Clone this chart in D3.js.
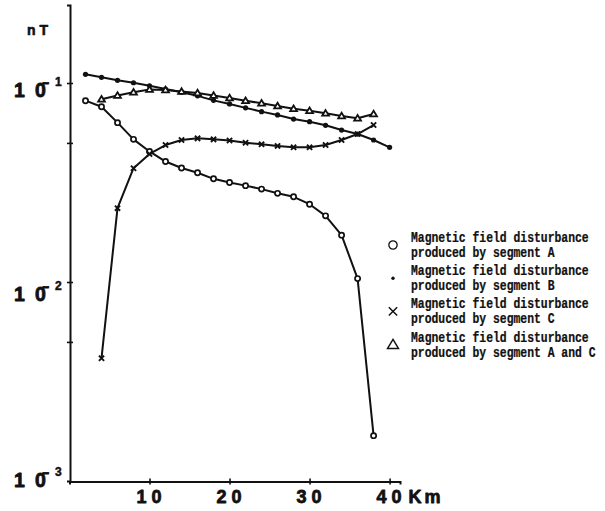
<!DOCTYPE html>
<html><head><meta charset="utf-8">
<script src="https://cdn.jsdelivr.net/npm/d3@7"></script>
<style>body{margin:0;background:#fff}svg{display:block}</style>
</head><body><svg id="c" width="605" height="511"></svg>
<script>
// ---- data (distance in km, disturbance in nT) ----
const distA = [2,4,6,8,10,12,14,16,18,20,22,24,26,28,30,32,34,36,38];
const valuesA = [0.0815,0.0760,0.0632,0.0521,0.0453,0.0403,0.0374,0.0354,0.0330,0.0316,0.0305,0.0293,0.0279,0.0268,0.0246,0.0215,0.0172,0.0104,0.00169];
const distB = [2,4,6,8,10,12,14,16,18,20,22,24,26,28,30,32,34,36,38,40];
const valuesB = [0.1106,0.1068,0.1032,0.1003,0.0969,0.0933,0.0898,0.0862,0.0818,0.0785,0.0750,0.0718,0.0691,0.0659,0.0639,0.0613,0.0580,0.0554,0.0517,0.0475];
const distC = [4,6,8,10,12,14,16,18,20,22,24,26,28,30,32,34,36,38];
const valuesC = [0.00414,0.0235,0.0373,0.0440,0.0488,0.0517,0.0527,0.0521,0.0514,0.0501,0.0492,0.0483,0.0475,0.0475,0.0488,0.0517,0.0554,0.0615];
const distAC = [4,6,8,10,12,14,16,18,20,22,24,26,28,30,32,34,36,38];
const valuesAC = [0.0828,0.0866,0.0899,0.0928,0.0922,0.0906,0.0891,0.0866,0.0841,0.0815,0.0791,0.0766,0.0743,0.0726,0.0704,0.0683,0.0665,0.0699];

const xTickValues = [10,20,30,40];
const xTickLabels = ["10","20","30","40"];
const xUnit = "Km";
const yUnit = "nT";
const yMarkValues = [0.1,0.05,0.01,0.005];
const yLabelValues = [0.1,0.01,0.001];
const yLabelExponents = ["1","2","3"];
const legendLine1 = ["Magnetic field disturbance","Magnetic field disturbance","Magnetic field disturbance","Magnetic field disturbance"];
const legendLine2 = ["produced by segment A","produced by segment B","produced by segment C","produced by segment A and C"];
const legendSymbols = ["circle","dot","cross","triangle"];

// ---- chart ----
const svg = d3.select("#c");
const x = d3.scaleLinear().domain([0,41.3]).range([69.5,400]);
const y = d3.scaleLog().domain([0.001,0.2466]).range([481,5]);
const INK = "#111";

// axes
const gy = svg.append("g").attr("transform","translate(70,0)")
  .call(d3.axisLeft(y).tickValues(yMarkValues).tickFormat("").tickSizeOuter(0).tickSize(3));
gy.select(".domain").attr("stroke",INK).attr("stroke-width",2);
gy.selectAll(".tick line").attr("x1",-3).attr("x2",3).attr("stroke",INK).attr("stroke-width",1.6);

const gx = svg.append("g").attr("transform","translate(0,481.5)")
  .call(d3.axisBottom(x).tickValues(xTickValues).tickFormat("").tickSizeOuter(0).tickSize(3));
gx.select(".domain").attr("stroke",INK).attr("stroke-width",2);
gx.selectAll(".tick line").attr("y1",-3).attr("y2",3).attr("stroke",INK).attr("stroke-width",1.6);

const boldFont = "'Liberation Sans', Arial, sans-serif";
function heavy(sel, w){ return sel.attr("font-family",boldFont).attr("font-weight","bold")
  .attr("fill",INK).attr("stroke",INK).attr("stroke-width",w||0.8).attr("stroke-linejoin","round"); }

// x tick labels
heavy(svg.append("g").selectAll("text").data(xTickValues).join("text")
  .attr("x",d=>x(d)+2).attr("y",503)
  .attr("text-anchor","middle").attr("font-size",18).attr("letter-spacing",5)
  .text((d,i)=>xTickLabels[i]));
heavy(svg.append("text").attr("x",x(40)+19).attr("y",503)
  .attr("font-size",18).attr("letter-spacing",3).text(xUnit));

// y unit
heavy(svg.append("text").attr("x",27).attr("y",35)
  .attr("font-size",14).attr("letter-spacing",4).text(yUnit), 0.6);

// y labels "1 0̄ ^n"
const labelNudge = [14,19,6];
const yl = svg.append("g").selectAll("g").data(yLabelValues).join("g")
  .attr("transform",(d,i)=>`translate(0,${y(d)+labelNudge[i]})`);
heavy(yl.append("text").attr("x",14).attr("y",0).attr("font-size",19.5).text("1"));
heavy(yl.append("text").attr("x",35).attr("y",0).attr("font-size",19.5).text("0\u0304"));
heavy(yl.append("text").attr("x",55).attr("y",-11).attr("font-size",12)
  .text((d,i)=>yLabelExponents[i]), 0.5);

// lines
const line = d3.line().x(d=>x(d[0])).y(d=>y(d[1])).curve(d3.curveLinear);
const series = [
  {name:"A", pts: distA.map((d,i)=>[d,valuesA[i]]), sym:"circle"},
  {name:"B", pts: distB.map((d,i)=>[d,valuesB[i]]), sym:"dot"},
  {name:"C", pts: distC.map((d,i)=>[d,valuesC[i]]), sym:"cross"},
  {name:"AC", pts: distAC.map((d,i)=>[d,valuesAC[i]]), sym:"triangle"}
];
svg.append("g").selectAll("path").data(series).join("path")
  .attr("d",s=>line(s.pts)).attr("fill","none").attr("stroke",INK).attr("stroke-width",2)
  .attr("stroke-linejoin","round");

function drawSymbol(g, sym, scale){
  if(sym==="circle"){
    g.append("circle").attr("r",2.6*scale).attr("fill","#fff").attr("stroke",INK).attr("stroke-width",scale>1?1.3:1.7);
  } else if(sym==="dot"){
    g.append("circle").attr("r",scale>1?1.7:2.6).attr("fill",INK);
  } else if(sym==="cross"){
    const s=2.6*scale;
    g.append("path").attr("d",`M${-s},${-s}L${s},${s}M${-s},${s}L${s},${-s}`)
      .attr("stroke",INK).attr("stroke-width",scale>1?1.5:1.9);
  } else {
    const s=3.4*scale;
    g.append("path").attr("d",`M0,${-s*0.95}L${s},${s*0.7}L${-s},${s*0.7}Z`)
      .attr("fill","#fff").attr("stroke",INK).attr("stroke-width",scale>1?1.5:1.8).attr("stroke-linejoin","miter");
  }
}

series.forEach(s=>{
  const g = svg.append("g");
  s.pts.forEach(p=>{
    const m = g.append("g").attr("transform",`translate(${x(p[0])},${y(p[1])})`);
    drawSymbol(m, s.sym, 1);
  });
});

// legend (typewriter-style monospace text)
const legendTop = 238;
const legendFont = "'Liberation Mono', 'Courier New', monospace";
legendSymbols.forEach((sym,i)=>{
  const cy = legendTop + i*33.2;
  const m = svg.append("g").attr("transform",`translate(393,${cy+7})`);
  drawSymbol(m, sym, 1.6);
  [legendLine1[i], legendLine2[i]].forEach((t,k)=>{
    const baseline = cy + 4 + k*15;
    svg.append("g").attr("transform",`translate(411,${baseline}) scale(1,1.22)`)
      .append("text").attr("x",0).attr("y",0)
      .attr("font-family",legendFont).attr("font-weight","bold").attr("font-size",11.4).attr("fill",INK)
      .attr("stroke",INK).attr("stroke-width",0.2)
      .text(t);
  });
});
</script>
</body></html>
